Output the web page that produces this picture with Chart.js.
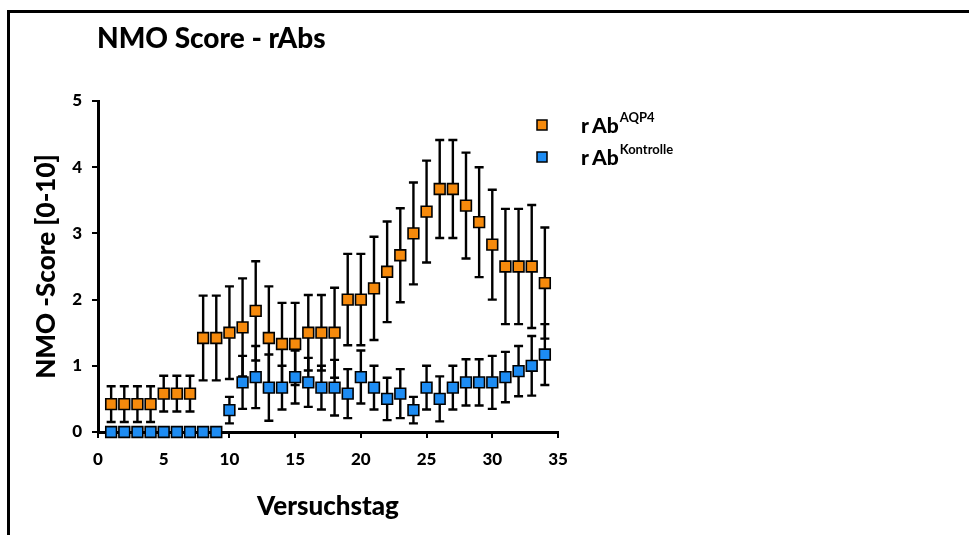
<!DOCTYPE html>
<html>
<head>
<meta charset="utf-8">
<script src="https://cdn.jsdelivr.net/npm/chart.js@4.4.1/dist/chart.umd.min.js"></script>
<style>
  html, body { margin: 0; padding: 0; background: #fff; }
  #wrap { position: relative; width: 969px; height: 535px; overflow: hidden; }
  #frame { position: absolute; left: 7px; top: 10px; right: -5px; bottom: -5px;
           border-top: 3px solid #000; border-left: 3px solid #000; }
  #myChart { position: absolute; left: 0; top: 0; }
</style>
</head>
<body>
<div id="wrap">
  <div id="frame"></div>
  <canvas id="myChart" width="969" height="535"></canvas>
</div>
<script>
// Versuchstage 1..34
var tage = [];
for (var t = 1; t <= 34; t++) tage.push(t);

var aqp4 = [0.42, 0.42, 0.42, 0.42, 0.58, 0.58, 0.58, 1.42, 1.42, 1.5, 1.58, 1.83, 1.42, 1.33, 1.33, 1.5, 1.5,
            1.5, 2.0, 2.0, 2.17, 2.42, 2.67, 3.0, 3.33, 3.67, 3.67, 3.42, 3.17, 2.83, 2.5, 2.5, 2.5, 2.25];
var aqp4Sem = [0.27, 0.27, 0.27, 0.27, 0.27, 0.27, 0.27, 0.64, 0.64, 0.7, 0.74, 0.75, 0.78, 0.62, 0.62, 0.57, 0.57,
               0.68, 0.69, 0.69, 0.78, 0.76, 0.71, 0.77, 0.77, 0.74, 0.74, 0.8, 0.83, 0.83, 0.87, 0.87, 0.93, 0.84];

var kontrolle = [0, 0, 0, 0, 0, 0, 0, 0, 0, 0.33, 0.75, 0.83, 0.67, 0.67, 0.83, 0.75, 0.67,
                 0.67, 0.58, 0.83, 0.67, 0.5, 0.58, 0.33, 0.67, 0.5, 0.67, 0.75, 0.75, 0.75, 0.83, 0.92, 1.0, 1.17];
var kontrolleSem = [0, 0, 0, 0, 0, 0, 0, 0, 0, 0.2, 0.4, 0.47, 0.5, 0.33, 0.4, 0.37, 0.33,
                    0.42, 0.37, 0.4, 0.33, 0.32, 0.37, 0.2, 0.33, 0.34, 0.33, 0.35, 0.35, 0.4, 0.38, 0.38, 0.45, 0.46];

var xTicks = [0, 5, 10, 15, 20, 25, 30, 35];
var yTicks = [0, 1, 2, 3, 4, 5];

var serien = ['AQP4', 'Kontrolle'];
var farben = ['#f68a0c', '#1d8cf3'];

var FONT = 'Lato, "Open Sans", sans-serif';

function punkte(werte) {
    var out = [];
    for (var i = 0; i < tage.length; i++) out.push({ x: tage[i], y: werte[i] });
    return out;
}

// Fehlerbalken (SEM) direkt vor den Markern der jeweiligen Serie
var fehlerBalken = {
    id: 'fehlerBalken',
    beforeDatasetDraw: function (chart, args) {
        var ds = chart.data.datasets[args.index];
        if (!ds.sem) return;
        var ctx = chart.ctx, ys = chart.scales.y;
        ctx.save();
        ctx.strokeStyle = '#000';
        ctx.lineWidth = 2.4;
        args.meta.data.forEach(function (pt, i) {
            var e = ds.sem[i];
            if (!e) return;
            var v = ds.data[i].y;
            var top = ys.getPixelForValue(v + e);
            var bot = ys.getPixelForValue(Math.max(0, v - e));
            ctx.beginPath();
            ctx.moveTo(pt.x, top); ctx.lineTo(pt.x, bot);
            ctx.moveTo(pt.x - 4.5, top); ctx.lineTo(pt.x + 4.5, top);
            if (v - e > 0) { ctx.moveTo(pt.x - 4.5, bot); ctx.lineTo(pt.x + 4.5, bot); }
            ctx.stroke();
        });
        ctx.restore();
    }
};

// Titel, Achsentitel und Legende mit hochgestellten Namen
var beschriftung = {
    id: 'beschriftung',
    afterDraw: function (chart) {
        var ctx = chart.ctx, a = chart.chartArea;
        ctx.save();
        ctx.fillStyle = '#000';
        ctx.textBaseline = 'alphabetic';

        ctx.font = '900 28px ' + FONT;
        ctx.textAlign = 'left';
        ctx.fillText('NMO Score - rAbs', 97, 48);

        ctx.font = '900 26px ' + FONT;
        ctx.textAlign = 'center';
        ctx.fillText('Versuchstag', (a.left + a.right) / 2, 515);

        ctx.save();
        ctx.translate(55, (a.top + a.bottom) / 2);
        ctx.rotate(-Math.PI / 2);
        ctx.fillText('NMO -Score [0-10]', 0, 0);
        ctx.restore();

        for (var i = 0; i < serien.length; i++) {
            var cy = 125 + i * 32;
            ctx.fillStyle = farben[i];
            ctx.strokeStyle = '#000';
            ctx.lineWidth = 1.5;
            ctx.fillRect(537, cy - 5, 10, 10);
            ctx.strokeRect(537, cy - 5, 10, 10);
            ctx.fillStyle = '#000';
            ctx.textAlign = 'left';
            ctx.font = '900 21px ' + FONT;
            ctx.fillText('r', 581, cy + 8);
            ctx.fillText('Ab', 592, cy + 8);
            var ende = 592 + ctx.measureText('Ab').width;
            ctx.font = 'bold 13px ' + FONT;
            ctx.fillText(serien[i], ende + 1, cy - 3);
        }
        ctx.restore();
    }
};

var ctx = document.getElementById('myChart').getContext('2d');
var config = {
    type: 'scatter',
    data: {
        datasets: [{
            label: 'rAb ' + serien[0],
            data: punkte(aqp4),
            sem: aqp4Sem,
            order: 2,
            clip: false,
            pointStyle: 'rect',
            pointRadius: 7.6,
            pointBorderWidth: 1.6,
            pointBackgroundColor: farben[0],
            pointBorderColor: '#000'
        }, {
            label: 'rAb ' + serien[1],
            data: punkte(kontrolle),
            sem: kontrolleSem,
            order: 1,
            clip: false,
            pointStyle: 'rect',
            pointRadius: 7.6,
            pointBorderWidth: 1.6,
            pointBackgroundColor: farben[1],
            pointBorderColor: '#000'
        }]
    },
    options: {
        responsive: false,
        animation: false,
        devicePixelRatio: 1,
        layout: { padding: { left: 0, top: 101, right: 411, bottom: 0 } },
        plugins: { legend: { display: false }, tooltip: { enabled: false } },
        scales: {
            x: {
                type: 'linear', min: 0, max: 35,
                afterFit: function (s) { s.height = 103; },
                afterBuildTicks: function (s) { s.ticks = xTicks.map(function (v) { return { value: v }; }); },
                grid: { drawOnChartArea: false, drawTicks: true, tickLength: 6, color: '#000', lineWidth: 2 },
                border: { color: '#000', width: 3 },
                ticks: { color: '#000', padding: 11, font: { family: FONT, size: 17, weight: '900' } }
            },
            y: {
                type: 'linear', min: 0, max: 5,
                afterFit: function (s) { s.width = 98; },
                afterBuildTicks: function (s) { s.ticks = yTicks.map(function (v) { return { value: v }; }); },
                grid: { drawOnChartArea: false, drawTicks: true, tickLength: 6, color: '#000', lineWidth: 2 },
                border: { color: '#000', width: 3 },
                ticks: { color: '#000', padding: 10, font: { family: FONT, size: 17, weight: '900' } }
            }
        }
    },
    plugins: [fehlerBalken, beschriftung]
};
var chart = new Chart(ctx, config);
</script>
</body>
</html>
